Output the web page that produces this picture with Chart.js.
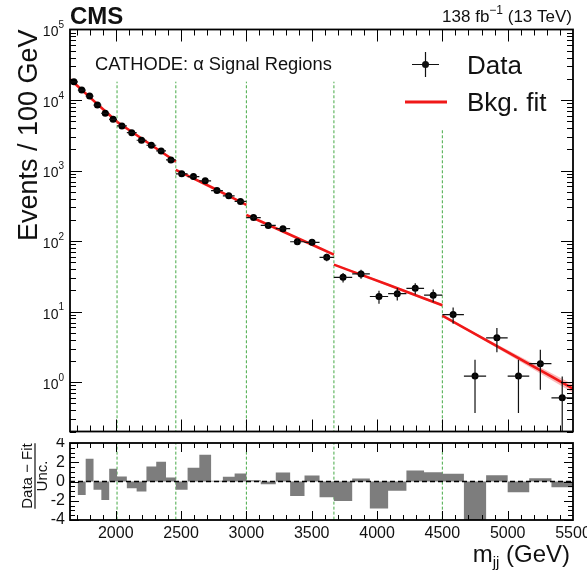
<!DOCTYPE html>
<html>
<head>
<meta charset="utf-8">
<script src="https://cdn.jsdelivr.net/npm/chart.js@4.4.1/dist/chart.umd.min.js"></script>
<style>
  body { margin: 0; background: #fff; width: 587px; height: 571px; overflow: hidden; position: relative; }
  canvas { position: absolute; left: 0; }
  #main { top: 0; }
  #pull { top: 438px; }
</style>
</head>
<body>
<canvas id="main" width="587" height="438"></canvas>
<canvas id="pull" width="587" height="133"></canvas>
<script>
// bin edges (GeV), 6 bins in each signal region
const binEdges = [1650, 1710, 1770, 1830, 1890, 1950, 2010,
  2085, 2160, 2235, 2310, 2385, 2460,
  2550, 2640, 2730, 2820, 2910, 3000,
  3110, 3225, 3335, 3445, 3560, 3670,
  3810, 3945, 4085, 4225, 4360, 4500,
  4665, 4835, 5000, 5165, 5335, 5500];

// events / 100 GeV
const events = [18150, 13840, 11400, 8490, 6480, 5330,
  4290, 3445, 2690, 2286, 1900, 1417,
  898, 822, 715, 521, 439, 365,
  216, 167, 150, 98, 96, 59,
  30.7, 34.3, 16.4, 18.0, 21.4, 17.1,
  9.1, 1.22, 4.25, 1.22, 1.83, 0.60];

const eventErr = [174, 152, 138, 119, 104, 94,
  75.5, 67.7, 59.8, 55.1, 50.3, 43.4,
  31.6, 30.2, 28.2, 24.0, 22.1, 20.1,
  13.9, 12.3, 11.6, 9.4, 9.3, 7.3,
  4.72, 4.99, 3.45, 3.61, 3.94, 3.52,
  2.34, 0.855, 1.6, 0.855, 1.05, 0.6];

// (data - fit) / unc.
const pulls = [0, -1.39, 2.37, -0.87, -1.91, 1.32,
  0.52, -0.7, -1.04, 1.57, 2.05, 0.42,
  -0.87, 1.43, 2.78, 0.07, 0.49, 0.83,
  0.14, -0.28, 0.94, -1.5, 0.63, -1.63,
  -2.03, 0.3, -2.81, -0.95, 1.15, 0.95,
  0.81, -4.6, 0.64, -1.12, 0.34, -0.61];

// background fit per signal region: value at start, middle, end
const regionEdges = [1650, 2010, 2460, 3000, 3670, 4500, 5500];
const fitStart = [19800, 4900, 1023, 236, 46.4, 8.77];
const fitMid = [9800, 2560, 585, 123, 24, 2.67];
const fitEnd = [4930, 1340, 327, 64.3, 12.3, 0.81];

// fit uncertainty band (last two regions)
const bandX = [[3670, 4085, 4500], [4500, 5000, 5500]];
const bandLo = [[45.5, 23.2, 11.8], [8.55, 2.5, 0.71]];
const bandHi = [[47.3, 24.8, 12.8], [9.0, 2.85, 0.93]];

// signal region boundaries (green dashed)
const srLines = [2010, 2460, 3000, 3670, 4500];
const srLineTop = [18200, 18200, 18200, 18200, 3770];

const xTickLabels = [2000, 2500, 3000, 3500, 4000, 4500, 5000, 5500];
const yTickPowers = [0, 1, 2, 3, 4, 5];
const pullTickLabels = [4, 2, 0, -2, -4];

const FONT = '"Liberation Sans", Arial, Helvetica, sans-serif';
const RED = 'rgb(240, 24, 24)';
const GREEN = 'rgb(70, 170, 70)';

const centers = binEdges.slice(0, -1).map((e, i) => (e + binEdges[i + 1]) / 2);

function drawFrame(chart, yTicks, xMajor, xMinor, yMajor, yMinor) {
  const { ctx, chartArea: a, scales: { x, y } } = chart;
  ctx.save();
  ctx.strokeStyle = '#000';
  ctx.lineWidth = 1;
  ctx.beginPath();
  for (let v = 1700; v < 5500; v += 100) {
    const px = Math.round(x.getPixelForValue(v)) + 0.5;
    const len = v % 500 === 0 ? xMajor : xMinor;
    ctx.moveTo(px, a.bottom); ctx.lineTo(px, a.bottom - len);
    ctx.moveTo(px, a.top); ctx.lineTo(px, a.top + len);
  }
  yTicks.forEach(([v, major]) => {
    const py = Math.round(y.getPixelForValue(v)) + 0.5;
    const len = major ? yMajor : yMinor;
    ctx.moveTo(a.left, py); ctx.lineTo(a.left + len, py);
    ctx.moveTo(a.right, py); ctx.lineTo(a.right - len, py);
  });
  ctx.stroke();
  ctx.lineWidth = 1.8;
  ctx.strokeRect(a.left, a.top, a.right - a.left, a.bottom - a.top);
  ctx.restore();
}

const logTicks = [];
for (let d = -1; d <= 4; d++) {
  for (let k = 1; k <= 9; k++) {
    const v = k * Math.pow(10, d);
    if (v >= 0.2 && v < 1e5) logTicks.push([v, k === 1]);
  }
}
const linTicks = [];
for (let v = -4; v <= 4; v += 0.5) linTicks.push([v, v % 2 === 0]);

const mainPlugin = {
  id: 'mainDecor',
  afterDatasetsDraw(chart) {
    const { ctx, chartArea: a, scales: { x, y } } = chart;
    ctx.save();
    ctx.strokeStyle = '#111';
    ctx.lineWidth = 1.2;
    ctx.beginPath();
    events.forEach((v, i) => {
      const px = x.getPixelForValue(centers[i]);
      const py = y.getPixelForValue(v);
      const lo = v - eventErr[i] > 0 ? y.getPixelForValue(v - eventErr[i]) : a.bottom;
      const hi = y.getPixelForValue(v + eventErr[i]);
      ctx.moveTo(px, Math.min(lo, a.bottom)); ctx.lineTo(px, hi);
      ctx.moveTo(x.getPixelForValue(binEdges[i]), py);
      ctx.lineTo(x.getPixelForValue(binEdges[i + 1]), py);
    });
    ctx.stroke();
    ctx.restore();
  },
  afterDraw(chart) {
    const { ctx, chartArea: a, scales: { y } } = chart;
    drawFrame(chart, logTicks, 12, 6, 12, 6);
    ctx.save();
    ctx.fillStyle = '#111';
    // y tick labels 10^n
    yTickPowers.forEach(d => {
      const py = y.getPixelForValue(Math.pow(10, d));
      ctx.font = '10px ' + FONT;
      const ew = ctx.measureText(String(d)).width;
      ctx.textAlign = 'left';
      ctx.textBaseline = 'middle';
      ctx.fillText(String(d), 64 - ew, py - 4);
      ctx.font = '14px ' + FONT;
      ctx.textAlign = 'right';
      ctx.fillText('10', 64 - ew, py + 3);
    });
    // y title
    ctx.save();
    ctx.translate(37, a.top);
    ctx.rotate(-Math.PI / 2);
    ctx.font = '27px ' + FONT;
    ctx.textAlign = 'right';
    ctx.textBaseline = 'alphabetic';
    ctx.fillText('Events / 100 GeV', 0, 0);
    ctx.restore();
    // CMS label
    ctx.font = 'bold 24px ' + FONT;
    ctx.textAlign = 'left';
    ctx.textBaseline = 'alphabetic';
    ctx.fillText('CMS', 70, 24);
    // lumi label
    ctx.font = '17px ' + FONT;
    ctx.textAlign = 'right';
    const tail = ' (13 TeV)';
    let xr = 572;
    ctx.fillText(tail, xr, 22);
    xr -= ctx.measureText(tail).width;
    ctx.font = '12px ' + FONT;
    ctx.fillText('\u22121', xr, 14);
    xr -= ctx.measureText('\u22121').width;
    ctx.font = '17px ' + FONT;
    ctx.fillText('138 fb', xr, 22);
    // region label
    ctx.font = '18.3px ' + FONT;
    ctx.textAlign = 'left';
    ctx.fillText('CATHODE: \u03b1 Signal Regions', 95, 70);
    // legend
    ctx.strokeStyle = '#111';
    ctx.lineWidth = 1.2;
    ctx.beginPath();
    ctx.moveTo(425.5, 52); ctx.lineTo(425.5, 77);
    ctx.moveTo(412, 64.5); ctx.lineTo(439, 64.5);
    ctx.stroke();
    ctx.beginPath();
    ctx.arc(425.5, 64.5, 3.5, 0, Math.PI * 2);
    ctx.fill();
    ctx.strokeStyle = RED;
    ctx.lineWidth = 3;
    ctx.beginPath();
    ctx.moveTo(405, 102); ctx.lineTo(447, 102);
    ctx.stroke();
    ctx.font = '26px ' + FONT;
    ctx.fillText('Data', 467, 74);
    ctx.fillText('Bkg. fit', 467, 111);
    ctx.restore();
  }
};

const pullPlugin = {
  id: 'pullDecor',
  afterDraw(chart) {
    const { ctx, chartArea: a, scales: { x, y } } = chart;
    drawFrame(chart, linTicks, 9, 5, 9, 5);
    ctx.save();
    ctx.fillStyle = '#111';
    ctx.font = '16px ' + FONT;
    ctx.textAlign = 'right';
    ctx.textBaseline = 'middle';
    pullTickLabels.forEach(v => ctx.fillText(String(v), 65, y.getPixelForValue(v)));
    ctx.font = '16px ' + FONT;
    ctx.textAlign = 'center';
    xTickLabels.forEach(v => ctx.fillText(String(v), x.getPixelForValue(v), 96));
    // x title
    ctx.textBaseline = 'alphabetic';
    ctx.textAlign = 'right';
    ctx.font = '24px ' + FONT;
    let xr = 570;
    const t = ' (GeV)';
    ctx.fillText(t, xr, 124);
    xr -= ctx.measureText(t).width;
    ctx.font = '15px ' + FONT;
    ctx.fillText('jj', xr, 129);
    xr -= ctx.measureText('jj').width;
    ctx.font = '24px ' + FONT;
    ctx.fillText('m', xr, 124);
    // y title as fraction
    ctx.save();
    const cy = 38;
    ctx.rotate(-Math.PI / 2);
    ctx.font = '15px ' + FONT;
    ctx.textAlign = 'center';
    const numW = ctx.measureText('Data \u2212 Fit').width;
    ctx.fillText('Data \u2212 Fit', -cy, 32);
    ctx.fillText('Unc.', -cy, 47);
    ctx.strokeStyle = '#111';
    ctx.lineWidth = 1.2;
    ctx.beginPath();
    ctx.moveTo(-cy - numW / 2, 35);
    ctx.lineTo(-cy + numW / 2, 35);
    ctx.stroke();
    ctx.restore();
    ctx.restore();
  }
};

// main panel datasets
const mainSets = [];
mainSets.push({
  label: 'Data', type: 'scatter', order: 0,
  data: events.map((v, i) => ({ x: centers[i], y: v })),
  pointRadius: 3.5, pointBackgroundColor: '#000', pointBorderWidth: 0, showLine: false
});
regionEdges.slice(0, -1).forEach((e, r) => {
  mainSets.push({
    label: 'Bkg. fit', type: 'line', order: 1,
    data: [{ x: e, y: fitStart[r] }, { x: (e + regionEdges[r + 1]) / 2, y: fitMid[r] }, { x: regionEdges[r + 1], y: fitEnd[r] }],
    borderColor: RED, borderWidth: 2.6, pointRadius: 0, cubicInterpolationMode: 'monotone', fill: false
  });
});
bandX.forEach((bx, b) => {
  mainSets.push({
    label: 'band lo', type: 'line', order: 2,
    data: bx.map((xv, i) => ({ x: xv, y: bandLo[b][i] })),
    borderWidth: 0, pointRadius: 0, cubicInterpolationMode: 'monotone', fill: false
  });
  mainSets.push({
    label: 'band hi', type: 'line', order: 2,
    data: bx.map((xv, i) => ({ x: xv, y: bandHi[b][i] })),
    borderWidth: 0, pointRadius: 0, cubicInterpolationMode: 'monotone',
    fill: '-1', backgroundColor: 'rgba(240, 60, 60, 0.35)'
  });
});
srLines.forEach((xv, i) => {
  mainSets.push({
    label: 'SR', type: 'line', order: 3,
    data: [{ x: xv, y: 0.01 }, { x: xv, y: srLineTop[i] }],
    borderColor: GREEN, borderWidth: 1, borderDash: [3, 2], pointRadius: 0, fill: false
  });
});

new Chart(document.getElementById('main'), {
  type: 'scatter',
  data: { datasets: mainSets },
  options: {
    responsive: false,
    animation: false,
    events: [],
    layout: { padding: { left: 70, right: 14, top: 29.5, bottom: 6.5 } },
    plugins: { legend: { display: false }, tooltip: { enabled: false } },
    scales: {
      x: { type: 'linear', min: 1650, max: 5500, display: false },
      y: { type: 'logarithmic', min: 0.2, max: 1e5, display: false }
    }
  },
  plugins: [mainPlugin]
});

// pull panel datasets
const pullSets = [];
pullSets.push({
  label: 'pull', type: 'line', order: 1,
  data: pulls.map((p, i) => ({ x: binEdges[i], y: p })).concat([{ x: binEdges[binEdges.length - 1], y: pulls[pulls.length - 1] }]),
  stepped: 'before', borderWidth: 0, pointRadius: 0,
  fill: 'origin', backgroundColor: 'rgb(125, 125, 125)'
});
pullSets.push({
  label: 'zero', type: 'line', order: 0,
  data: [{ x: 1650, y: 0 }, { x: 5500, y: 0 }],
  borderColor: '#000', borderWidth: 1.4, borderDash: [5, 3], pointRadius: 0, fill: false
});
srLines.forEach(xv => {
  pullSets.push({
    label: 'SR', type: 'line', order: 2,
    data: [{ x: xv, y: -5 }, { x: xv, y: 5 }],
    borderColor: GREEN, borderWidth: 1, borderDash: [3, 2], pointRadius: 0, fill: false
  });
});

new Chart(document.getElementById('pull'), {
  type: 'scatter',
  data: { datasets: pullSets },
  options: {
    responsive: false,
    animation: false,
    events: [],
    layout: { padding: { left: 70, right: 14, top: 5, bottom: 51 } },
    plugins: { legend: { display: false }, tooltip: { enabled: false } },
    scales: {
      x: { type: 'linear', min: 1650, max: 5500, display: false },
      y: { type: 'linear', min: -4, max: 4, display: false }
    }
  },
  plugins: [pullPlugin]
});
</script>
</body>
</html>
